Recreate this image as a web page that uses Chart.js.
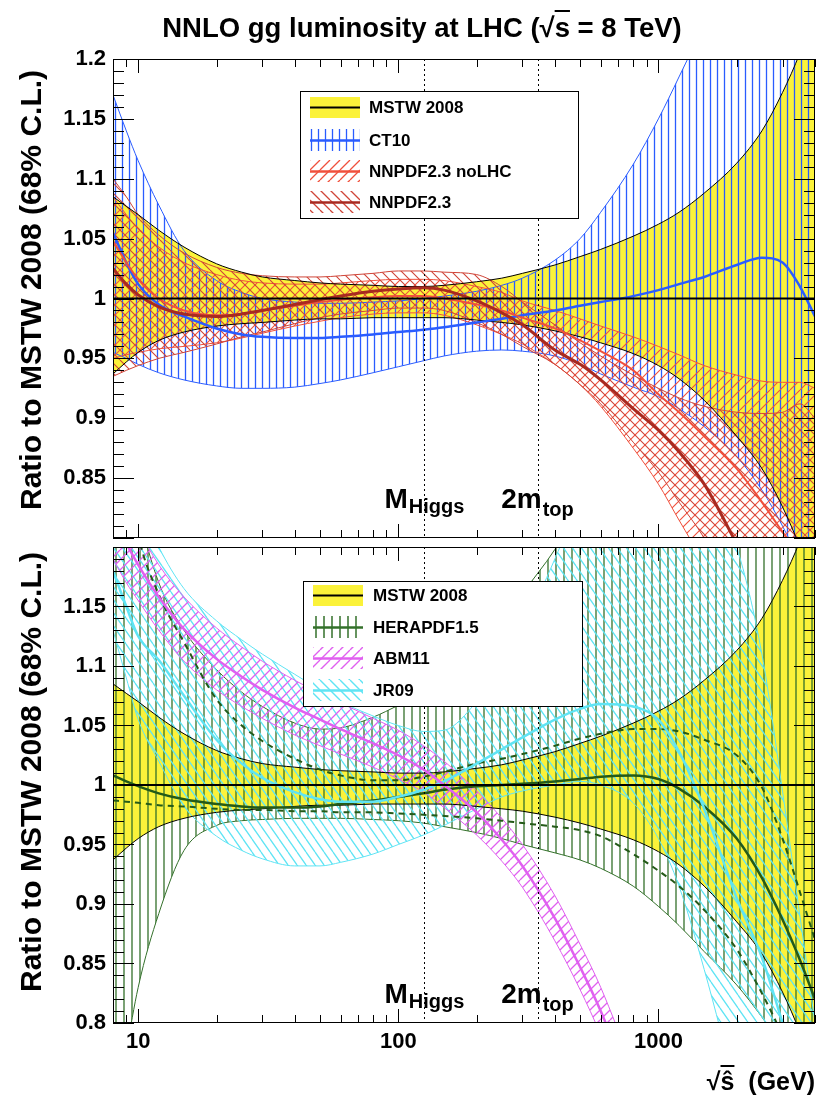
<!DOCTYPE html>
<html><head><meta charset="utf-8">
<script src="https://cdn.jsdelivr.net/npm/chart.js@4.4.1/dist/chart.umd.min.js"></script>
<style>
html,body{margin:0;padding:0;background:#fff;}
#wrap{position:relative;width:817px;height:1098px;overflow:hidden;font-family:"Liberation Sans",Arial,sans-serif;color:#000;}
#title{position:absolute;left:0;top:13px;width:844px;text-align:center;font-weight:bold;font-size:27.5px;line-height:30px;white-space:nowrap;}
.ov{text-decoration:overline;}
canvas{position:absolute;left:0;}
#c1{top:0}
#c2{top:540px}
#xt{position:absolute;right:2px;top:1067px;font-weight:bold;font-size:25px;line-height:28px;white-space:nowrap;}
</style></head><body>
<div id="wrap">
<canvas id="c1" width="817" height="545"></canvas>
<canvas id="c2" width="817" height="558"></canvas>
<div id="title">NNLO gg luminosity at LHC (√<span class="ov">s</span> = 8 TeV)</div>
<div id="xt">√<span class="ov">ŝ</span>&nbsp; (GeV)</div>
</div>
<script>
// ---------- data (ratio to MSTW 2008) ----------
const xVals = [8, 9, 10, 12, 15, 20, 25, 30, 40, 50, 60, 80, 100, 125, 150, 200, 250, 300, 400, 500, 600, 800, 1000, 1200, 1500, 2000, 2500, 3000, 3500, 4000];

const mstwCentral = [1,1,1,1,1, 1,1,1,1,1, 1,1,1,1,1, 1,1,1,1,1, 1,1,1,1,1, 1,1,1,1,1];
const mstwUpper = [1.085,1.077,1.070,1.057,1.043, 1.029,1.022,1.018,1.015,1.013, 1.012,1.011,1.010,1.010,1.011, 1.014,1.017,1.021,1.028,1.035, 1.041,1.052,1.062,1.072,1.088, 1.113,1.140,1.172,1.205,1.240];
const mstwLower = [0.937,0.947,0.955,0.965,0.972, 0.977,0.979,0.980,0.982,0.983, 0.983,0.984,0.984,0.984,0.984, 0.982,0.980,0.978,0.973,0.968, 0.963,0.954,0.944,0.933,0.915, 0.885,0.858,0.826,0.792,0.755];

const ct10Upper = [1.170,1.140,1.115,1.078,1.040, 1.015,1.005,1.000,0.997,0.996, 0.996,0.997,0.998,1.000,1.002, 1.006,1.011,1.017,1.032,1.050, 1.072,1.112,1.150,1.185,1.230, 1.300,1.360,1.420,1.470,1.520];
const ct10Central = [1.055,1.030,1.012,0.995,0.985, 0.975,0.970,0.968,0.967,0.967, 0.968,0.970,0.972,0.974,0.976, 0.980,0.983,0.986,0.990,0.994, 0.997,1.002,1.007,1.012,1.018, 1.028,1.034,1.030,1.010,0.985];
const ct10Lower = [0.955,0.950,0.945,0.938,0.932, 0.927,0.925,0.925,0.926,0.929, 0.932,0.938,0.943,0.948,0.952, 0.956,0.957,0.956,0.952,0.945, 0.937,0.926,0.918,0.908,0.893, 0.868,0.840,0.810,0.780,0.750];

const nolhcUpper = [1.085,1.070,1.058,1.043,1.030, 1.020,1.015,1.013,1.012,1.012, 1.013,1.015,1.016,1.016,1.015, 1.010,1.005,0.998,0.990,0.983, 0.977,0.968,0.960,0.953,0.944, 0.936,0.931,0.930,0.930,0.925];
const nolhcCentral = [1.048,1.030,1.016,1.000,0.990, 0.986,0.987,0.990,0.994,0.997, 0.999,1.001,1.002,1.002,1.000, 0.995,0.990,0.984,0.975,0.965, 0.956,0.940,0.920,0.905,0.885, 0.858,0.830,0.805,0.785,0.765];
const nolhcLower = [0.950,0.953,0.955,0.958,0.960, 0.963,0.967,0.971,0.977,0.981, 0.984,0.987,0.988,0.988,0.986, 0.978,0.970,0.962,0.945,0.928, 0.910,0.875,0.845,0.815,0.780, 0.740,0.710,0.690,0.670,0.650];

const nnpdfUpper = [1.100,1.085,1.070,1.053,1.038, 1.026,1.021,1.019,1.018,1.018, 1.019,1.021,1.023,1.023,1.022, 1.020,1.010,0.997,0.978,0.963, 0.952,0.936,0.925,0.917,0.910, 0.905,0.904,0.905,0.912,0.900];
const nnpdfCentral = [1.025,1.012,1.003,0.993,0.987, 0.985,0.987,0.990,0.995,0.999, 1.002,1.006,1.008,1.009,1.007, 0.998,0.988,0.978,0.957,0.945, 0.932,0.908,0.890,0.872,0.845, 0.795,0.755,0.715,0.680,0.650];
const nnpdfLower = [0.935,0.940,0.944,0.950,0.955, 0.962,0.968,0.972,0.979,0.984, 0.987,0.990,0.992,0.992,0.990, 0.980,0.970,0.960,0.945,0.928, 0.912,0.880,0.855,0.830,0.800, 0.750,0.700,0.650,0.620,0.600];

const heraUpper = [1.340,1.280,1.230,1.170,1.130, 1.097,1.078,1.066,1.052,1.047, 1.048,1.057,1.067,1.078,1.088, 1.108,1.130,1.160,1.198,1.235, 1.265,1.310,1.350,1.380,1.420, 1.470,1.510,1.550,1.580,1.600];
const heraCentral = [1.008,1.003,0.999,0.993,0.988, 0.984,0.982,0.981,0.981,0.982, 0.984,0.987,0.990,0.993,0.996, 0.999,1.000,1.001,1.003,1.005, 1.007,1.008,1.005,0.997,0.982, 0.955,0.922,0.887,0.853,0.820];
const heraLower = [0.700,0.775,0.830,0.892,0.945, 0.966,0.970,0.971,0.972,0.972, 0.972,0.971,0.970,0.968,0.965, 0.960,0.955,0.950,0.943,0.937, 0.930,0.915,0.898,0.882,0.860, 0.832,0.805,0.780,0.760,0.740];
const heraDashUpper = [1.330,1.270,1.210,1.160,1.120, 1.072,1.050,1.037,1.022,1.013, 1.008,1.004,1.004,1.007,1.011, 1.018,1.022,1.026,1.033,1.039, 1.043,1.047,1.047,1.045,1.038, 1.025,0.998,0.955,0.910,0.870];
const heraDashLower = [0.987,0.986,0.985,0.983,0.982, 0.980,0.979,0.979,0.978,0.978, 0.977,0.977,0.976,0.975,0.974, 0.972,0.970,0.968,0.965,0.962, 0.957,0.942,0.928,0.915,0.895, 0.862,0.825,0.790,0.760,0.730];

const abmUpper = [1.260,1.235,1.215,1.185,1.158, 1.132,1.116,1.104,1.088,1.077, 1.069,1.056,1.046,1.033,1.020, 0.995,0.972,0.950,0.907,0.866, 0.830,0.760,0.700,0.650,0.600, 0.550,0.500,0.450,0.400,0.350];
const abmCentral = [1.225,1.203,1.185,1.158,1.131, 1.106,1.091,1.080,1.065,1.055, 1.047,1.035,1.025,1.013,1.000, 0.977,0.954,0.932,0.888,0.847, 0.810,0.740,0.680,0.630,0.580, 0.530,0.480,0.430,0.380,0.330];
const abmLower = [1.190,1.170,1.155,1.130,1.104, 1.080,1.066,1.056,1.042,1.033, 1.026,1.015,1.005,0.994,0.981, 0.958,0.936,0.914,0.869,0.828, 0.790,0.720,0.660,0.610,0.560, 0.510,0.460,0.410,0.360,0.310];

const jrUpper = [1.350,1.290,1.240,1.200,1.165, 1.138,1.122,1.110,1.093,1.080, 1.070,1.058,1.050,1.045,1.046, 1.070,1.100,1.130,1.190,1.240, 1.270,1.290,1.290,1.280,1.260, 1.200,1.110,0.995,0.890,0.800];
const jrCentral = [1.180,1.150,1.125,1.105,1.075, 1.038,1.018,1.006,0.994,0.988, 0.986,0.986,0.990,0.996,1.003, 1.018,1.030,1.040,1.055,1.064, 1.068,1.066,1.055,1.028,0.980, 0.905,0.855,0.800,0.750,0.700];
const jrLower = [1.130,1.090,1.055,1.020,0.982, 0.957,0.945,0.938,0.932,0.932, 0.935,0.942,0.950,0.958,0.966, 0.980,0.990,0.995,1.000,1.003, 1.000,0.985,0.955,0.915,0.845, 0.740,0.650,0.600,0.550,0.500];

// ---------- ticks / labels ----------
const yTicksTop = [0.85, 0.9, 0.95, 1, 1.05, 1.1, 1.15, 1.2];
const yLabelsTop = ['0.85', '0.9', '0.95', '1', '1.05', '1.1', '1.15', '1.2'];
const yTicksBot = [0.8, 0.85, 0.9, 0.95, 1, 1.05, 1.1, 1.15];
const yLabelsBot = ['0.8', '0.85', '0.9', '0.95', '1', '1.05', '1.1', '1.15'];
const xTickVals = [10, 100, 1000];
const xTickLabels = ['10', '100', '1000'];
const massLines = [125, 345];
const topLegendLabels = ['MSTW 2008', 'CT10', 'NNPDF2.3 noLHC', 'NNPDF2.3'];
const botLegendLabels = ['MSTW 2008', 'HERAPDF1.5', 'ABM11', 'JR09'];
const yTitle = 'Ratio to MSTW 2008 (68% C.L.)';

// ---------- styles ----------
const FONT = '"Liberation Sans", Arial, sans-serif';
const YEL = '#fbf23a', BLUE = '#2a5cff', RED = '#f0503c', DRED = '#a82a20', DREDH = '#cf4438';
const GREEN = '#33702a', DGREEN = '#245a18', MAG = '#e060f0', CYAN = '#5fe4f4';

function hatch(ctx, color, kind, w, h, lw) {
  const c = document.createElement('canvas'); c.width = w; c.height = h;
  const g = c.getContext('2d'); g.strokeStyle = color; g.lineWidth = lw;
  g.beginPath();
  const seg = (x1, y1, x2, y2) => { g.moveTo(x1, y1); g.lineTo(x2, y2); };
  if (kind === 'v') seg(w / 2, 0, w / 2, h);
  if (kind === '/' || kind === 'x') for (const o of [-1, 0, 1]) seg(o * w, h, o * w + w, 0);
  if (kind === '\\' || kind === 'x') for (const o of [-1, 0, 1]) seg(o * w, 0, o * w + w, h);
  g.stroke();
  return ctx.createPattern(c, 'repeat');
}

const pts = arr => xVals.map((x, i) => ({x: x, y: arr[i]}));
const line = (arr, o) => Object.assign({data: pts(arr), borderColor: '#000', borderWidth: 1, pointRadius: 0,
  fill: false, cubicInterpolationMode: 'monotone', order: 0}, o);

// ---------- overlay plugin: frame, inside ticks, dotted lines, labels, legend, axis title ----------
const overlay = {
  id: 'overlay',
  afterDraw(chart, args, opts) {
    const {ctx, chartArea: a} = chart; const x = chart.scales.x, y = chart.scales.y;
    ctx.save();
    ctx.strokeStyle = '#000'; ctx.lineWidth = 1;
    ctx.setLineDash([2, 3]);
    ctx.beginPath();
    for (const m of massLines) { const px = Math.round(x.getPixelForValue(m)) + 0.5; ctx.moveTo(px, a.top); ctx.lineTo(px, a.bottom); }
    ctx.stroke(); ctx.setLineDash([]);
    ctx.strokeRect(Math.round(a.left) + 0.5, Math.round(a.top) + 0.5, Math.round(a.right - a.left) - 1, Math.round(a.bottom - a.top) - 1);
    ctx.beginPath();
    for (let k = 0; k <= 40; k++) {
      const v = 0.8 + k * 0.01; const py = Math.round(y.getPixelForValue(v)) + 0.5; const L = (k % 5 === 0) ? 21 : 11;
      ctx.moveTo(a.left, py); ctx.lineTo(a.left + L, py); ctx.moveTo(a.right, py); ctx.lineTo(a.right - L, py);
    }
    for (const d of [1, 10, 100, 1000]) for (let m = 1; m <= 9; m++) {
      const v = m * d; if (v < 8 || v > 4000) continue;
      const px = Math.round(x.getPixelForValue(v)) + 0.5; const L = m === 1 ? 14 : 8;
      ctx.moveTo(px, a.bottom); ctx.lineTo(px, a.bottom - L); ctx.moveTo(px, a.top); ctx.lineTo(px, a.top + L);
    }
    ctx.stroke();
    ctx.fillStyle = '#000'; ctx.textBaseline = 'alphabetic'; ctx.textAlign = 'left';
    const yb = a.bottom - opts.labelOffset;
    const lab = (big, sub, xl, subDy) => {
      ctx.font = 'bold 28px ' + FONT; ctx.fillText(big, xl, yb);
      const w = ctx.measureText(big).width;
      ctx.font = 'bold 20px ' + FONT; ctx.fillText(sub, xl + w + 1, yb + subDy);
    };
    lab('M', 'Higgs', x.getPixelForValue(massLines[0]) - 39, 5);
    lab('2m', 'top', x.getPixelForValue(massLines[1]) - 37, 8);
    // y-axis title
    ctx.save();
    ctx.translate(opts.titleX, opts.titleY); ctx.rotate(-Math.PI / 2);
    ctx.font = 'bold 30px ' + FONT; ctx.textAlign = 'center'; ctx.textBaseline = 'middle';
    ctx.fillText(yTitle, 0, 0);
    ctx.restore();
    // legend
    const L = opts.legend;
    ctx.fillStyle = '#fff'; ctx.fillRect(L.x, L.y, L.w, L.h);
    ctx.strokeStyle = '#000'; ctx.lineWidth = 1; ctx.strokeRect(L.x + 0.5, L.y + 0.5, L.w, L.h);
    L.items.forEach((it, i) => {
      const cy = L.rows[i];
      if (it.bg) { ctx.fillStyle = it.bg; ctx.fillRect(L.sx, cy - 10, 50, 21); }
      if (it.pat) { ctx.fillStyle = it.pat; ctx.fillRect(L.sx, cy - 11, 50, 22); }
      ctx.strokeStyle = it.color; ctx.lineWidth = it.lw; ctx.beginPath(); ctx.moveTo(L.sx, cy + 0.5); ctx.lineTo(L.sx + 50, cy + 0.5); ctx.stroke();
      ctx.fillStyle = '#000'; ctx.font = 'bold 17px ' + FONT; ctx.textAlign = 'left'; ctx.textBaseline = 'alphabetic';
      ctx.fillText(it.label, L.tx, cy + 6);
    });
    ctx.restore();
  }
};

function makeChart(id, datasets, yTicks, yLabels, showX, overlayOpts, padding) {
  const fontTick = {family: FONT, size: 22, weight: 'bold'};
  return new Chart(document.getElementById(id), {
    type: 'line',
    data: {datasets: datasets},
    plugins: [overlay],
    options: {
      responsive: false, animation: false, events: [],
      layout: {padding: padding},
      plugins: {legend: {display: false}, tooltip: {enabled: false}, overlay: overlayOpts},
      scales: {
        x: {
          type: 'logarithmic', min: 8, max: 4000, display: showX,
          grid: {display: false, drawTicks: false}, border: {display: false},
          afterBuildTicks: s => { s.ticks = xTickVals.map(v => ({value: v})); },
          afterFit: s => { s.height = showX ? 40 : 0; s.paddingLeft = 0; s.paddingRight = 0; },
          ticks: {callback: (v, i) => xTickLabels[i], font: fontTick, color: '#000', padding: 6, maxRotation: 0, autoSkip: false}
        },
        y: {
          type: 'linear', min: 0.8, max: 1.2,
          grid: {display: false, drawTicks: false}, border: {display: false},
          afterBuildTicks: s => { s.ticks = yTicks.map(v => ({value: v})); },
          afterFit: s => { s.width = 113; s.paddingTop = 0; s.paddingBottom = 0; },
          ticks: {callback: (v, i) => yLabels[i], font: fontTick, color: '#000', padding: 7, autoSkip: false},
          title: {display: false}
        }
      }
    }
  });
}

// ---------- top panel ----------
const ctx1 = document.getElementById('c1').getContext('2d');
const patCT = hatch(ctx1, BLUE, 'v', 7, 7, 1.3);
const patNo = hatch(ctx1, RED, '/', 10, 10, 1.1);
const patNN = hatch(ctx1, DREDH, '\\', 10, 10, 1.1);
const topSets = [
  line(mstwLower, {borderWidth: 0, order: 100}),
  line(mstwUpper, {borderWidth: 0, order: 100, fill: '-1', backgroundColor: YEL}),
  line(ct10Lower, {borderColor: BLUE, order: 90}),
  line(ct10Upper, {borderColor: BLUE, order: 90, fill: '-1', backgroundColor: patCT}),
  line(nolhcLower, {borderColor: RED, order: 80}),
  line(nolhcUpper, {borderColor: RED, order: 80, fill: '-1', backgroundColor: patNo}),
  line(nnpdfLower, {borderColor: DREDH, order: 70}),
  line(nnpdfUpper, {borderColor: DREDH, order: 70, fill: '-1', backgroundColor: patNN}),
  line(mstwLower, {order: 20}),
  line(mstwUpper, {order: 20}),
  line(ct10Central, {borderColor: BLUE, borderWidth: 2.5, order: 15}),
  line(nolhcCentral, {borderColor: RED, borderWidth: 2, order: 14}),
  line(nnpdfCentral, {borderColor: DRED, borderWidth: 3, order: 13}),
  line(mstwCentral, {borderWidth: 2, order: 10})
];
makeChart('c1', topSets, yTicksTop, yLabelsTop, false, {
  labelOffset: 30, titleX: 33, titleY: 290,
  legend: {x: 300, y: 91, w: 278, h: 127, sx: 310, tx: 369, rows: [107, 140, 171, 202], items: [
    {label: topLegendLabels[0], bg: YEL, color: '#000', lw: 2},
    {label: topLegendLabels[1], pat: hatch(ctx1, BLUE, 'v', 7, 7, 1.3), color: BLUE, lw: 2.5},
    {label: topLegendLabels[2], pat: hatch(ctx1, RED, '/', 10, 10, 1.3), color: RED, lw: 2.5},
    {label: topLegendLabels[3], pat: hatch(ctx1, DREDH, '\\', 10, 10, 1.3), color: DRED, lw: 2.5}
  ]}
}, {left: 0, right: 2, top: 59, bottom: 7});

// ---------- bottom panel ----------
const ctx2 = document.getElementById('c2').getContext('2d');
const patHE = hatch(ctx2, GREEN, 'v', 8, 8, 1.3);
const patAB = hatch(ctx2, MAG, '/', 10, 10, 1.3);
const patJR = hatch(ctx2, CYAN, '\\', 9, 13, 1.3);
const botSets = [
  line(mstwLower, {borderWidth: 0, order: 100}),
  line(mstwUpper, {borderWidth: 0, order: 100, fill: '-1', backgroundColor: YEL}),
  line(heraLower, {borderColor: GREEN, order: 90}),
  line(heraUpper, {borderColor: GREEN, order: 90, fill: '-1', backgroundColor: patHE}),
  line(jrLower, {borderColor: CYAN, order: 80}),
  line(jrUpper, {borderColor: CYAN, order: 80, fill: '-1', backgroundColor: patJR}),
  line(abmLower, {borderColor: MAG, order: 70}),
  line(abmUpper, {borderColor: MAG, order: 70, fill: '-1', backgroundColor: patAB}),
  line(mstwLower, {order: 20}),
  line(mstwUpper, {order: 20}),
  line(heraDashUpper, {borderColor: DGREEN, borderWidth: 2, borderDash: [6, 5], order: 18}),
  line(heraDashLower, {borderColor: DGREEN, borderWidth: 2, borderDash: [6, 5], order: 18}),
  line(heraCentral, {borderColor: DGREEN, borderWidth: 2.5, order: 15}),
  line(jrCentral, {borderColor: CYAN, borderWidth: 2.5, order: 14}),
  line(abmCentral, {borderColor: MAG, borderWidth: 2.5, order: 13}),
  line(mstwCentral, {borderWidth: 2, order: 10})
];
makeChart('c2', botSets, yTicksBot, yLabelsBot, true, {
  labelOffset: 20, titleX: 33, titleY: 232,
  legend: {x: 303, y: 41, w: 279, h: 125, sx: 313, tx: 373, rows: [55, 87, 118, 150], items: [
    {label: botLegendLabels[0], bg: YEL, color: '#000', lw: 2},
    {label: botLegendLabels[1], pat: hatch(ctx2, GREEN, 'v', 8, 8, 1.5), color: GREEN, lw: 2.5},
    {label: botLegendLabels[2], pat: hatch(ctx2, MAG, '/', 10, 10, 1.4), color: MAG, lw: 2.5},
    {label: botLegendLabels[3], pat: hatch(ctx2, CYAN, '\\', 10, 10, 1.4), color: CYAN, lw: 2.5}
  ]}
}, {left: 0, right: 2, top: 7, bottom: 35});
</script>
</body></html>
